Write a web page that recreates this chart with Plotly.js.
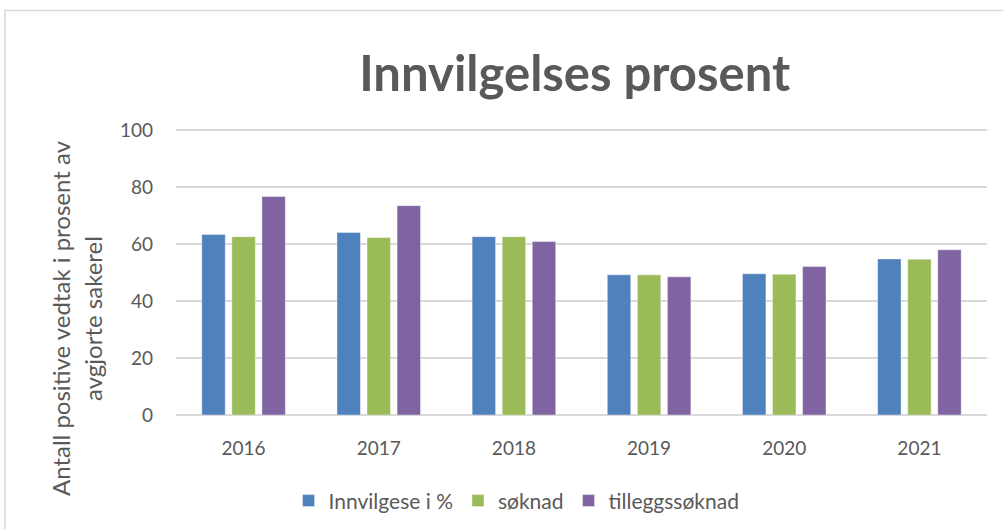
<!DOCTYPE html>
<html>
<head>
<meta charset="utf-8">
<script src="https://cdn.plot.ly/plotly-3.0.1.min.js"></script>
<style>
  body { margin: 0; background: #fff; }
  #chart { width: 1003px; height: 529px; }
</style>
</head>
<body>
<div id="chart"></div>
<script>
const years = ['2016', '2017', '2018', '2019', '2020', '2021']
const innvilgese = [63.4, 64.1, 62.6, 49.2, 49.6, 54.8]
const soknad = [62.6, 62.3, 62.6, 49.2, 49.4, 54.7]
const tilleggssoknad = [76.7, 73.5, 60.9, 48.5, 52.1, 58.0]

const seriesNames = ['Innvilgese i %', 'søknad', 'tilleggssøknad']
const seriesColors = ['#4f81bd', '#9bbb59', '#8064a2']
const seriesValues = [innvilgese, soknad, tilleggssoknad]

const textColor = '#595959'
const font = 'Lato, "Open Sans", sans-serif'

const data = seriesValues.map((values, i) => ({
  x: years,
  y: values,
  type: 'bar',
  name: seriesNames[i],
  marker: {
    color: seriesColors[i],
    line: { color: 'rgba(255,255,255,0.5)', width: 0.8 }
  },
  hoverinfo: 'y+name'
}))

const layout = {
  width: 1003,
  height: 529,
  margin: { l: 176, r: 16, t: 129, b: 114 },
  paper_bgcolor: '#ffffff',
  plot_bgcolor: '#ffffff',
  font: { family: font, color: textColor, size: 19 },
  title: {
    text: '<b>Innvilgelses prosent</b>',
    font: { family: font, size: 49, color: textColor },
    x: 0.573,
    xanchor: 'center',
    y: 0.86,
    yanchor: 'middle'
  },
  barmode: 'group',
  bargap: 0.333,
  bargroupgap: 0.22,
  xaxis: {
    showgrid: false,
    showline: false,
    ticks: '',
    tickfont: { size: 19, color: textColor },
    ticklabelstandoff: 20
  },
  yaxis: {
    range: [0, 100.4],
    dtick: 20,
    showgrid: true,
    gridcolor: '#d9d9d9',
    gridwidth: 1.5,
    zeroline: true,
    zerolinecolor: '#d9d9d9',
    zerolinewidth: 1.5,
    showline: false,
    ticks: '',
    tickfont: { size: 19, color: textColor },
    ticklabelstandoff: 22
  },
  legend: {
    orientation: 'h',
    xref: 'container',
    yref: 'container',
    x: 0.515,
    xanchor: 'center',
    y: 0.053,
    yanchor: 'middle',
    font: { size: 21, color: textColor },
    itemwidth: 30
  },
  annotations: [{
    text: 'Antall positive vedtak i prosent av<br>avgjorte sakerel',
    textangle: -90,
    xref: 'paper',
    yref: 'paper',
    x: -0.123,
    y: 0.34,
    xanchor: 'center',
    yanchor: 'middle',
    showarrow: false,
    font: { family: font, size: 24, color: textColor }
  }],
  shapes: [{
    type: 'path',
    xref: 'paper',
    yref: 'paper',
    path: 'M 1.03 1.414 L -0.2109 1.414 L -0.2109 -0.45',
    line: { color: '#d9d9d9', width: 1.5 }
  }]
}

Plotly.newPlot('chart', data, layout, { displayModeBar: false })
</script>
</body>
</html>
